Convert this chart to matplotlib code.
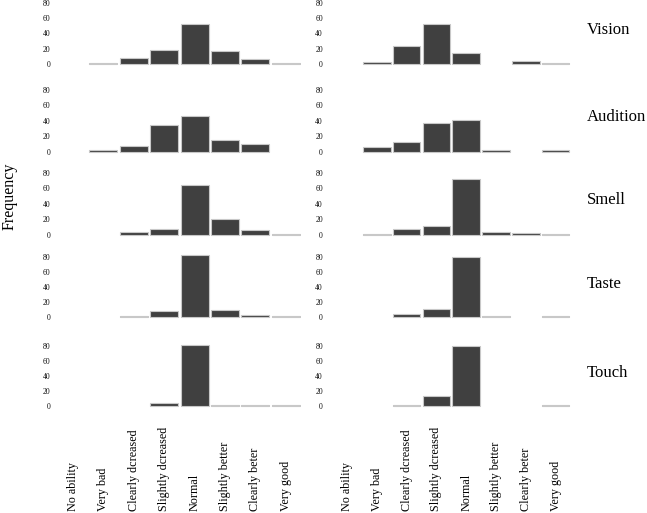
import matplotlib
matplotlib.use("Agg")
from matplotlib import pyplot as plt
from matplotlib import transforms
import numpy as np

# categorias del eje x
categorias = ["No ability", "Very bad", "Clearly dcreased", "Slightly dcreased",
              "Normal", "Slightly better", "Clearly beter", "Very good"]
sentidos = ["Vision", "Audition", "Smell", "Taste", "Touch"]

# frecuencias, columna izquierda
izq_vision = [0, 1, 8, 18, 53, 17, 7, 1]
izq_audicion = [0, 2, 8, 35, 46, 16, 10, 0]
izq_olfato = [0, 0, 4, 8, 64, 20, 6, 1.5]
izq_gusto = [0, 0, 1, 7.5, 83, 10, 3, 1.5]
izq_tacto = [0, 0, 0, 4.5, 81, 2, 2, 1]

# frecuencias, columna derecha
der_vision = [0, 2, 24, 52.5, 15, 0, 3.5, 1]
der_audicion = [0, 7, 13, 37, 41, 2.5, 0, 2.5]
der_olfato = [0, 1, 7.5, 11.5, 72, 3.5, 2, 1]
der_gusto = [0, 0, 4, 11, 80, 1.5, 0, 2]
der_tacto = [0, 0, 1, 13, 80, 0, 0, 1]

izquierda = [izq_vision, izq_audicion, izq_olfato, izq_gusto, izq_tacto]
derecha = [der_vision, der_audicion, der_olfato, der_gusto, der_tacto]

W, H = 647, 513
fig = plt.figure(figsize=(W / 100, H / 100), dpi=100)
plt.rcParams['font.family'] = ['Liberation Serif', 'DejaVu Serif']

# filas: pixel del 0 y del 80
filas_px = [(64, 3), (152, 90), (235, 173), (317, 257), (406, 346)]
# columnas: centro de la primera categoria, separacion, pad de ticks
columnas_px = [(73, 30.4, 5.2), (347, 29.8, 6.6)]
ylo, yhi = -4, 86

x = np.arange(len(categorias))
for c, (datos_col, (cx0, dx, pad)) in enumerate(zip([izquierda, derecha], columnas_px)):
    izq_px = cx0 - 0.5 * dx
    der_px = cx0 + (len(categorias) - 0.5) * dx
    for r, (datos, (y0, y80)) in enumerate(zip(datos_col, filas_px)):
        ppu = (y0 - y80) / 80.0
        abajo = y0 - ylo * ppu
        arriba = y80 - (yhi - 80) * ppu
        ax = fig.add_axes([izq_px / W, 1 - abajo / H, (der_px - izq_px) / W, (abajo - arriba) / H])
        v = np.array(datos, dtype=float)
        m = v > 0
        ax.bar(x[m], v[m], width=0.92, color='#404040', edgecolor='#c8c8c8', linewidth=0.8)
        ax.set_xlim(-0.5, len(categorias) - 0.5)
        ax.set_ylim(ylo, yhi)
        ax.set_yticks([0, 20, 40, 60, 80])
        ax.tick_params(axis='y', length=0, pad=pad, labelsize=5.6, labelcolor='#111111')
        ax.set_xticks([])
        for s in ax.spines.values():
            s.set_visible(False)
        ax.patch.set_alpha(0)
        if c == 1:
            ax.text(587 / W, 1 - (y80 + 27) / H, sentidos[r], transform=fig.transFigure,
                    fontsize=12, ha='left', va='center')
        if r == len(filas_px) - 1:
            trans = transforms.blended_transform_factory(ax.transData, fig.transFigure)
            for i, etiqueta in enumerate(categorias):
                ax.text(x[i], 1 - 511 / H, etiqueta, transform=trans, rotation=90,
                        ha='center', va='bottom', fontsize=8.7)

fig.text(2 / W, 1 - 196 / H, "Frequency", rotation=90, ha='left', va='center', fontsize=11.5)

plt.savefig('out.png', dpi=100)
